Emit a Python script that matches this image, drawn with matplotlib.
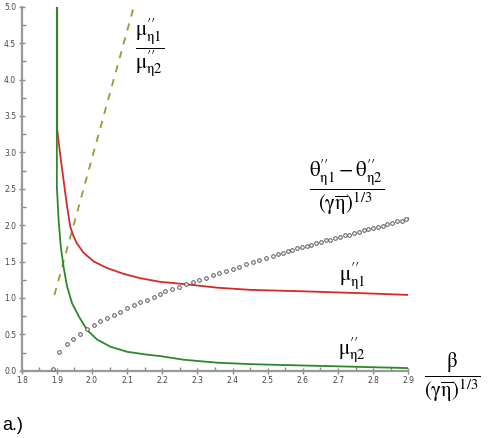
import matplotlib
matplotlib.use("Agg")
import matplotlib.pyplot as plt
from matplotlib.ticker import MultipleLocator, FormatStrFormatter

plt.rcParams['mathtext.fontset'] = 'stix'

# mu''_eta1 (red)
mu1_x = [1.901, 1.901, 1.909, 1.919, 1.929, 1.938, 1.947, 1.957, 1.976, 2.005, 2.043,
         2.090, 2.138, 2.195, 2.262, 2.357, 2.452, 2.529, 2.605, 2.700, 2.795, 2.905]
mu1_y = [5.00, 3.31, 2.99, 2.62, 2.26, 1.98, 1.855, 1.75, 1.62, 1.50, 1.41,
         1.33, 1.27, 1.22, 1.19, 1.14, 1.11, 1.10, 1.09, 1.075, 1.06, 1.04]

# mu''_eta2 (green)
mu2_x = [1.900, 1.900, 1.905, 1.911, 1.919, 1.929, 1.943, 1.962, 1.986, 2.014, 2.052,
         2.100, 2.157, 2.195, 2.262, 2.357, 2.452, 2.529, 2.700, 2.905]
mu2_y = [5.00, 2.53, 2.07, 1.71, 1.43, 1.16, 0.93, 0.75, 0.56, 0.43, 0.33,
         0.26, 0.22, 0.20, 0.15, 0.11, 0.09, 0.08, 0.06, 0.035]

# ratio mu1/mu2 (olive dashed)
ratio_x = [1.893, 2.04, 2.119]
ratio_y = [1.04, 3.62, 5.00]

# (theta1 - theta2)/(gamma eta)^(1/3) (circles)
th_x = [1.890, 1.907, 1.929, 1.947, 1.967, 1.986, 2.005, 2.024, 2.043, 2.062, 2.081,
        2.100, 2.119, 2.138, 2.157, 2.176, 2.193, 2.209, 2.229, 2.247, 2.267, 2.286,
        2.305, 2.324, 2.343, 2.362, 2.381, 2.400, 2.419, 2.438, 2.457, 2.476, 2.495,
        2.514, 2.529, 2.543, 2.557, 2.570, 2.584, 2.597, 2.611, 2.624, 2.638, 2.651,
        2.665, 2.678, 2.692, 2.705, 2.719, 2.732, 2.746, 2.759, 2.773, 2.786, 2.800,
        2.813, 2.827, 2.840, 2.854, 2.867, 2.881, 2.894, 2.905]
th_y = [0.03, 0.26, 0.36, 0.44, 0.51, 0.57, 0.63, 0.68, 0.72, 0.77, 0.81,
        0.86, 0.90, 0.94, 0.97, 1.01, 1.05, 1.09, 1.12, 1.15, 1.19, 1.22,
        1.25, 1.28, 1.31, 1.34, 1.37, 1.40, 1.43, 1.47, 1.49, 1.52, 1.55,
        1.57, 1.60, 1.62, 1.64, 1.66, 1.68, 1.70, 1.71, 1.73, 1.75, 1.77,
        1.79, 1.80, 1.82, 1.84, 1.86, 1.87, 1.89, 1.91, 1.93, 1.94, 1.96,
        1.98, 1.99, 2.01, 2.03, 2.05, 2.06, 2.08, 2.10]

xticks = [1.8, 1.9, 2.0, 2.1, 2.2, 2.3, 2.4, 2.5, 2.6, 2.7, 2.8, 2.9]
yticks = [0.0, 0.5, 1.0, 1.5, 2.0, 2.5, 3.0, 3.5, 4.0, 4.5, 5.0]

W, H = 491, 438
fig = plt.figure(figsize=(W / 100, H / 100), dpi=100)
ax = fig.add_axes([21.7 / W, 1 - 370.7 / H, 386.6 / W, 364.0 / H])
ax.set_xlim(1.8, 2.9)
ax.set_ylim(0, 5)

ax.plot(mu1_x, mu1_y, color='#d42a2a', lw=1.3, zorder=3, solid_joinstyle='round')
ax.plot(mu2_x, mu2_y, color='#2a8a2a', lw=1.3, zorder=3, solid_joinstyle='round')
ax.plot(ratio_x, ratio_y, color='#9a9a30', lw=1.3, dashes=(4, 4), zorder=2)
ax.plot(th_x, th_y, ls='none', marker='o', ms=2.6, mfc='white', mec='#555555',
        mew=0.7, zorder=4)

for s in ['top', 'right']:
    ax.spines[s].set_visible(False)
for s in ['left', 'bottom']:
    ax.spines[s].set_color('#999999')
    ax.spines[s].set_linewidth(1.6)

ax.set_xticks(xticks)
ax.set_yticks(yticks)
ax.xaxis.set_major_formatter(FormatStrFormatter('%.1f'))
ax.yaxis.set_major_formatter(FormatStrFormatter('%.1f'))
ax.xaxis.set_minor_locator(MultipleLocator(0.05))
ax.yaxis.set_minor_locator(MultipleLocator(0.25))
ax.tick_params(which='major', direction='inout', length=5, width=1, color='#888888',
               labelsize=5.5, labelcolor='#444444', pad=1.5)
ax.tick_params(which='minor', direction='in', length=3, width=1, color='#888888')

tkw = dict(transform=fig.transFigure, ha='center', va='center', color='black')
frac_mu = r'$\dfrac{\mathrm{\mu}^{\prime\prime}_{\mathrm{\eta}1}}{\mathrm{\mu}^{\prime\prime}_{\mathrm{\eta}2}}$'
fig.text(150 / W, 1 - 48 / H, frac_mu, fontsize=15, **tkw)
frac_th = r'$\dfrac{\mathrm{\theta}^{\prime\prime}_{\mathrm{\eta}1}-\mathrm{\theta}^{\prime\prime}_{\mathrm{\eta}2}}{(\mathrm{\gamma}\overline{\mathrm{\eta}})^{1/3}}$'
fig.text(347 / W, 1 - 188 / H, frac_th, fontsize=15, **tkw)
fig.text(352 / W, 1 - 276 / H, r'$\mathrm{\mu}^{\prime\prime}_{\mathrm{\eta}1}$', fontsize=15, **tkw)
fig.text(352 / W, 1 - 350 / H, r'$\mathrm{\mu}^{\prime\prime}_{\mathrm{\eta}2}$', fontsize=15, **tkw)
frac_b = r'$\dfrac{\mathrm{\beta}}{(\mathrm{\gamma}\overline{\mathrm{\eta}})^{1/3}}$'
fig.text(452 / W, 1 - 377 / H, frac_b, fontsize=15, **tkw)
fig.text(2 / W, 1 - 425 / H, 'a.)', fontsize=13, family='Liberation Sans',
         transform=fig.transFigure, ha='left', va='center')

fig.savefig('out.png', dpi=100)
